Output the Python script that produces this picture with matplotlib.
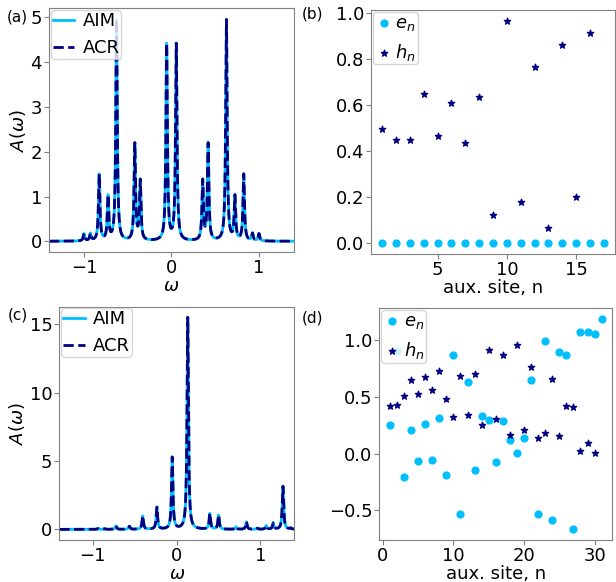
import numpy as np
import matplotlib
matplotlib.use("Agg")
import matplotlib.pyplot as plt

# -----------------------------
# peak data (position, height); broadening eta
# -----------------------------
eta = 0.01

peaks_a_pos = [-1.0, -0.926, -0.826, -0.725, -0.628, -0.419, -0.357, -0.055,
               0.055, 0.357, 0.419, 0.628, 0.725, 0.826, 0.926, 1.0]
peaks_a_h = [0.16, 0.16, 1.48, 0.97, 4.93, 2.15, 1.32, 4.38,
             4.38, 1.32, 2.15, 4.93, 0.97, 1.48, 0.16, 0.16]

peaks_c_pos = [-0.94, -0.86, -0.725, -0.565, -0.405, -0.236, -0.053, 0.132,
               0.396, 0.50, 0.708, 0.832, 0.964, 1.068, 1.152, 1.268, 1.36]
peaks_c_h = [0.06, 0.05, 0.25, 0.22, 0.97, 1.6, 5.25, 15.5,
             1.15, 1.03, 0.18, 0.55, 0.08, 0.27, 0.45, 3.15, 0.08]

# auxiliary chain parameters
sites_b = list(range(1, 18))
e_b = [0.0] * 17
h_b = [0.495, 0.447, 0.449, 0.648, 0.463, 0.607, 0.434, 0.634,
       0.121, 0.965, 0.180, 0.766, 0.064, 0.861, 0.201, 0.914]

sites_d = list(range(1, 32))
e_d = [0.25, 0.91, -0.206, 0.206, -0.065, 0.262, -0.056, 0.315, -0.188, 0.868,
       -0.532, 0.635, -0.147, 0.329, 0.297, -0.074, 0.291, 0.124, 0.006, 0.138,
       0.647, -0.532, 0.991, -0.582, 0.897, 0.874, -0.668, 1.071, 1.071, 1.056,
       1.191]
h_d = [0.421, 0.426, 0.512, 0.653, 0.529, 0.679, 0.565, 0.729, 0.482, 0.324,
       0.682, 0.344, 0.703, 0.25, 0.915, 0.303, 0.868, 0.162, 0.956, 0.212,
       0.768, 0.138, 0.182, 0.656, 0.156, 0.421, 0.409, 0.026, 0.097, 0.003]

LIGHT = "deepskyblue"
DARK = "navy"


def spectrum(w, pos, heights):
    A = np.zeros_like(w)
    for p, h in zip(pos, heights):
        A += h * eta**2 / ((w - p) ** 2 + eta**2)
    return A


def style(ax):
    for s in ax.spines.values():
        s.set_color("gray")
    ax.tick_params(color="gray", pad=1.5)


plt.rcParams["font.size"] = 13

fig = plt.figure(figsize=(6.16, 5.82), dpi=100)
ax_a = fig.add_axes([0.0795, 0.5665, 0.3977, 0.4192])
ax_b = fig.add_axes([0.6023, 0.5636, 0.3961, 0.4192])
ax_c = fig.add_axes([0.0963, 0.0722, 0.3810, 0.4009])
ax_d = fig.add_axes([0.6157, 0.0722, 0.3782, 0.3981])

w = np.linspace(-1.4, 1.4, 6001)

for ax, pos, hts in [(ax_a, peaks_a_pos, peaks_a_h), (ax_c, peaks_c_pos, peaks_c_h)]:
    A = spectrum(w, pos, hts)
    ax.plot(w, A, color=LIGHT, lw=2, label="AIM")
    ax.plot(w, A, color=DARK, lw=2, ls="--", label="ACR")
    ax.set_xlim(-1.4, 1.4)
    ax.set_xlabel(r"$\omega$", labelpad=0)
    ax.set_ylabel(r"$A(\omega)$", labelpad=2)
    ax.legend(loc="upper left", borderaxespad=0.1, borderpad=0.1,
              handlelength=1.2, handletextpad=0.45)
    style(ax)

ax_a.set_yticks([0, 1, 2, 3, 4, 5])
ax_c.set_yticks([0, 5, 10, 15])

for ax, n, e, h, nh in [(ax_b, sites_b, e_b, h_b, 16), (ax_d, sites_d, e_d, h_d, 30)]:
    ax.scatter(n, e, s=24, color=LIGHT, label="$e_n$")
    ax.scatter(n[:nh], h, s=22, marker="*", color=DARK, label="$h_n$")
    ax.set_xlabel("aux. site, n", labelpad=0)
    ax.legend(loc="upper left", borderaxespad=0.1, borderpad=0.1,
              handlelength=1.0, handletextpad=0.15)
    style(ax)

ax_b.set_xticks([5, 10, 15])
ax_d.set_xticks([0, 10, 20, 30])

fig.text(0.028, 1 - 17 / 582, "(a)", fontsize=11, ha="center", va="center")
fig.text(0.507, 1 - 14 / 582, "(b)", fontsize=11, ha="center", va="center")
fig.text(0.029, 1 - 315 / 582, "(c)", fontsize=11, ha="center", va="center")
fig.text(0.507, 1 - 318 / 582, "(d)", fontsize=11, ha="center", va="center")

fig.savefig("out.png", dpi=100)
